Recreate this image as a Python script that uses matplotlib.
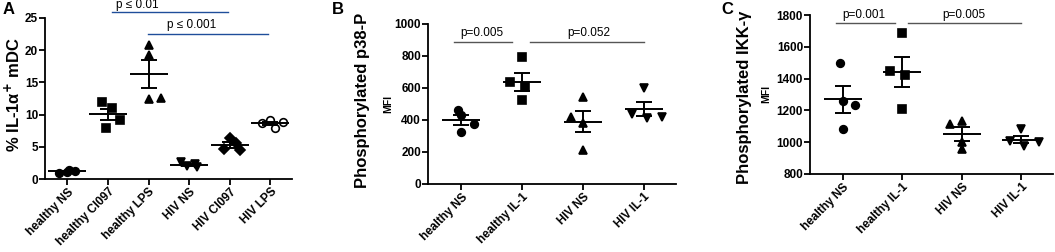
import numpy as np
import matplotlib
matplotlib.use("Agg")
from matplotlib import pyplot as plt

plt.rcParams['font.family'] = ['Liberation Sans', 'DejaVu Sans']

# Panel A: % IL-1a+ mDC
cats_a = ["healthy NS", "healthy Cl097", "healthy LPS", "HIV NS", "HIV Cl097", "HIV LPS"]
vals_a = [
    [1.0, 1.1, 1.2, 1.4],
    [12.0, 11.0, 9.2, 7.9],
    [20.8, 19.3, 12.5, 12.6],
    [2.6, 2.4, 2.0, 1.8],
    [6.3, 5.6, 4.6, 4.5],
    [9.1, 8.9, 8.7, 7.9],
]
markers_a = ["o", "s", "^", "v", "D", "o"]
filled_a = [True, True, True, True, True, False]
xoff_a = [[-0.2, 0.0, 0.2, 0.05], [-0.15, 0.1, 0.3, -0.05], [0.0, 0.0, 0.0, 0.3],
          [-0.2, 0.15, -0.05, 0.2], [0.0, 0.15, -0.15, 0.25], [0.0, 0.3, -0.2, 0.1]]

# Panel B: phosphorylated p38-P
cats_bc = ["healthy NS", "healthy IL-1", "HIV NS", "HIV IL-1"]
vals_b = [
    [465, 430, 375, 325],
    [795, 635, 605, 525],
    [545, 420, 380, 215],
    [600, 440, 410, 420],
]
# Panel C: phosphorylated IKK-gamma
vals_c = [
    [1500, 1260, 1235, 1080],
    [1685, 1445, 1425, 1210],
    [1135, 1115, 1000, 955],
    [1085, 1005, 975, 1000],
]
markers_bc = ["o", "s", "^", "v"]
xoff_bc = [[-0.05, 0.0, 0.2, 0.0], [0.0, -0.2, 0.05, 0.0], [0.0, -0.2, 0.0, 0.0],
           [0.0, -0.2, 0.05, 0.3]]

W, H = 1055, 252
fig = plt.figure(figsize=(W / 100, H / 100), dpi=100)


def px_axes(left, top, right, bottom):
    return fig.add_axes([left / W, 1 - bottom / H, (right - left) / W, (bottom - top) / H])


def draw_panel(ax, cats, vals, markers, filled, xoffs, ylim, yticks):
    for i, v in enumerate(vals):
        v = np.array(v, dtype=float)
        x = i + np.array(xoffs[i])
        fc = "black" if filled[i] else "white"
        ax.plot(x, v, linestyle="none", marker=markers[i], markersize=5.5,
                markerfacecolor=fc, markeredgecolor="black", markeredgewidth=1.2, zorder=3)
        m = v.mean()
        sem = v.std(ddof=1) / np.sqrt(len(v))
        ax.errorbar(i, m, yerr=sem, fmt="none", ecolor="black", elinewidth=1.4,
                    capsize=6, capthick=1.4, zorder=4)
        ax.plot([i], [m], marker="_", markersize=28, markeredgewidth=1.4,
                color="black", zorder=4)
    ax.set_xlim(-0.55, len(cats) - 0.47)
    ax.set_ylim(*ylim)
    ax.set_yticks(yticks)
    ax.set_xticks(range(len(cats)))
    ax.set_xticklabels(cats, rotation=45, ha="right", rotation_mode="anchor",
                       fontsize=8.5, fontweight="bold")
    for lab in ax.get_yticklabels():
        lab.set_fontsize(8.5)
        lab.set_fontweight("bold")
    ax.spines["top"].set_visible(False)
    ax.spines["right"].set_visible(False)
    ax.spines["left"].set_linewidth(1.3)
    ax.spines["bottom"].set_linewidth(1.3)
    ax.tick_params(direction="out", length=4, width=1.3, pad=1)


def sig(ax, x0, x1, y, tx, ty, label, color):
    ax.plot([x0, x1], [y, y], color=color, lw=1.0, clip_on=False)
    ax.text(tx, ty, label, ha="center", va="center", fontsize=8.5)


# A
axA = px_axes(45, 18, 292, 179)
draw_panel(axA, cats_a, vals_a, markers_a, filled_a, xoff_a, (0, 25), [0, 5, 10, 15, 20, 25])
sig(axA, 1.09, 3.96, 26.0, 1.73, 27.0, "p ≤ 0.01", "#1f4e9a")
sig(axA, 1.98, 4.93, 22.5, 3.07, 23.9, "p ≤ 0.001", "#1f4e9a")
fig.text(13 / W, 1 - 95 / H, "% IL-1α$^{\\mathbf{+}}$ mDC", rotation=90, ha="center",
         va="center", fontsize=12, fontweight="bold")
fig.text(9 / W, 1 - 10 / H, "A", ha="center", va="center", fontsize=12, fontweight="bold")

# B
axB = px_axes(428, 24, 676, 184)
draw_panel(axB, cats_bc, vals_b, markers_bc, [True] * 4, xoff_bc, (0, 1000),
           [0, 200, 400, 600, 800, 1000])
sig(axB, -0.12, 0.84, 887, 0.33, 944, "p=0.005", "#555555")
sig(axB, 1.13, 3.0, 887, 2.09, 944, "p=0.052", "#555555")
fig.text(363 / W, 1 - 100 / H, "Phosphorylated p38-P", rotation=90, ha="center",
         va="center", fontsize=12, fontweight="bold")
fig.text(388 / W, 1 - 104 / H, "MFI", rotation=90, ha="center", va="center",
         fontsize=7.5, fontweight="bold")
fig.text(338 / W, 1 - 10 / H, "B", ha="center", va="center", fontsize=12, fontweight="bold")

# C
axC = px_axes(810, 15, 1053, 174)
draw_panel(axC, cats_bc, vals_c, markers_bc, [True] * 4, xoff_bc, (800, 1800),
           [800, 1000, 1200, 1400, 1600, 1800])
sig(axC, -0.11, 0.87, 1750, 0.36, 1800, "p=0.001", "#555555")
sig(axC, 1.1, 3.0, 1750, 2.03, 1800, "p=0.005", "#555555")
fig.text(745 / W, 1 - 97 / H, "Phosphorylated IKK-γ", rotation=90, ha="center",
         va="center", fontsize=12, fontweight="bold")
fig.text(766 / W, 1 - 94 / H, "MFI", rotation=90, ha="center", va="center",
         fontsize=7.5, fontweight="bold")
fig.text(727 / W, 1 - 10 / H, "C", ha="center", va="center", fontsize=12, fontweight="bold")

fig.savefig("out.png", dpi=100)
